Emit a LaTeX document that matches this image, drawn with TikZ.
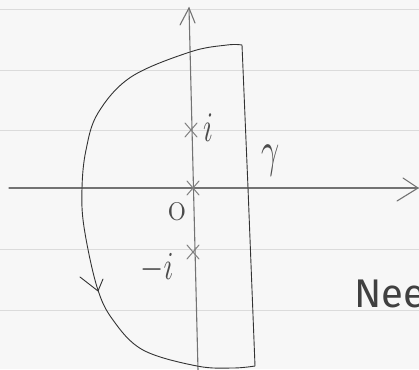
\documentclass[tikz,border=0pt]{standalone}
\usepackage{fontspec}
\newfontfamily\handfont{Fira Sans}
\newcommand{\lblsize}{\fontsize{24pt}{26pt}\selectfont}
\begin{document}
\begin{tikzpicture}[x=1pt,y=-1pt,
  paper/.style={draw=black!14, line width=0.9pt},
  axis/.style={draw=black!55, line width=1.1pt, line cap=round},
  contour/.style={draw=black!80, line width=0.9pt, line join=round, line cap=round},
  pole/.style={draw=black!50, line width=1pt, line cap=round},
  lbl/.style={text=black!70, inner sep=0pt},
]
\fill[white!97!black] (0,0) rectangle (419,369);
\useasboundingbox (0,0) rectangle (419,369);
% ruled paper
\foreach \yy in {9,70,130,249,310} { \draw[paper] (0,\yy) -- (419,\yy); }
% axes
\coordinate (xl) at (9,188);
\coordinate (xr) at (418,188);
\coordinate (yt) at (189,8);
\coordinate (yb) at (198,370);
\draw[axis] (xl) -- (xr);
\draw[axis] (403,178) -- (xr) -- (397,201);
\draw[axis] (yt) -- (yb);
\draw[axis] (180,25) -- (yt) -- (195,23);
% contour gamma
\coordinate (tr) at (242,45);
\coordinate (mr) at (248,188);
\coordinate (br) at (255,366);
\draw[contour] plot[smooth, tension=0.6] coordinates {(br) (233,368) (197,366) (143,350) (113,320) (97,287) (84,227) (82,188) (86,150) (98,113) (131,77) (190,52) (227,45) (tr)} -- (mr) -- (br);
% arrow on contour
\coordinate (at) at (98,291);
\draw[contour] (80,277) -- (at) -- (103,279);
% poles
\coordinate (pi) at (191,130);
\coordinate (p0) at (193,188);
\coordinate (pm) at (193,252);
\foreach \p in {pi,p0,pm} {
  \draw[pole] ([shift={(-6,-7)}]\p) -- ([shift={(6,7)}]\p);
  \draw[pole] ([shift={(-6,7)}]\p) -- ([shift={(6,-7)}]\p);
}
% labels
\node[lbl] (li) at (208,128) {\lblsize\scalebox{1.2}[1.7]{$i$}};
\node[lbl] (lg) at (271,161) {\lblsize\scalebox{1.3}[2.0]{$\gamma$}};
\node[lbl] (lo) at (177,212) {\lblsize\scalebox{1.6}[1.7]{o}};
\node[lbl] (lm) at (157,268) {\lblsize\scalebox{1.2}[1.6]{$-i$}};
\node[anchor=west, inner sep=0pt, text=black!75] (nee) at (354,294) {\handfont\fontsize{40pt}{42pt}\selectfont Nee};
\end{tikzpicture}
\end{document}
